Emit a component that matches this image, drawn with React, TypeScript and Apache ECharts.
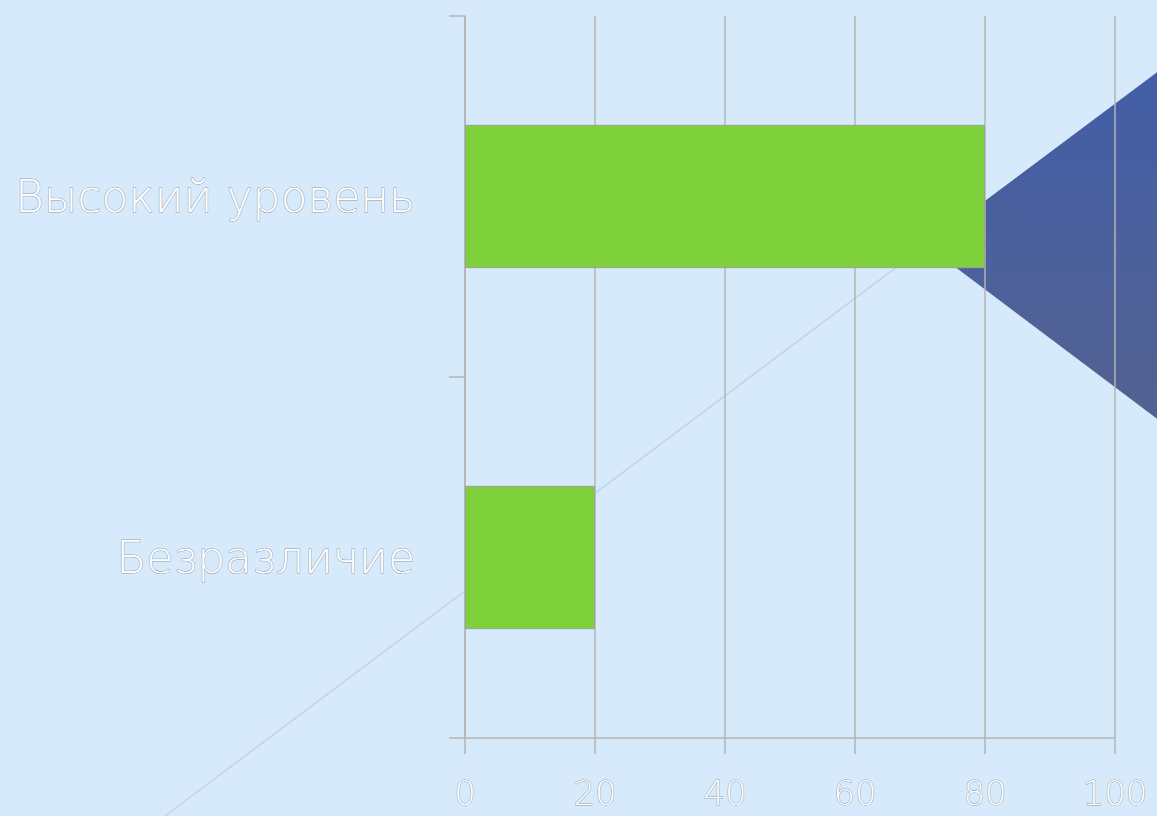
import React, { useEffect, useRef } from "react";
import * as echarts from "echarts";

const categories = ["Безразличие", "Высокий уровень"];
const values = [20, 80];
const xTicks = { min: 0, max: 100, interval: 20 };

export default function App() {
  const ref = useRef<HTMLDivElement>(null);
  useEffect(() => {
    document.body.style.margin = "0";
    const chart = echarts.init(ref.current!, null, { renderer: "svg" });
    const textStyle = {
      color: "#ffffff",
      fontFamily: "DejaVu Sans",
      fontWeight: 200 as any,
      textBorderColor: "rgba(110,120,130,0.7)",
      textBorderWidth: 1,
    };
    chart.setOption({
      animation: false,
      backgroundColor: "#d6eafc",
      graphic: {
        z: -10,
        elements: [
          {
            type: "polygon",
            z: -10,
            shape: { points: [[926, 245], [1200, 40], [1200, 451]] },
            style: {
              fill: new echarts.graphic.LinearGradient(0, 0, 0, 1, [
                { offset: 0, color: "#415ea9" },
                { offset: 1, color: "#55628f" },
              ]),
            },
          },
          {
            type: "line",
            z: -10,
            shape: { x1: 165, y1: 816, x2: 926, y2: 245 },
            style: { stroke: "#c3d3e2", lineWidth: 1.5 },
          },
        ],
      },
      grid: { left: 465, right: 42, top: 16, bottom: 78, containLabel: false },
      xAxis: {
        type: "value",
        min: xTicks.min,
        max: xTicks.max,
        interval: xTicks.interval,
        axisLine: { show: true, lineStyle: { color: "#b4b4b4", width: 1.5 } },
        axisTick: { show: true, length: 16, lineStyle: { color: "#b4b4b4", width: 1.5 } },
        splitLine: { show: true, lineStyle: { color: "#b4b4b4", width: 1.5 } },
        axisLabel: { ...textStyle, fontSize: 34, lineHeight: 34, margin: 38 },
      },
      yAxis: {
        type: "category",
        data: categories,
        axisLine: { show: true, lineStyle: { color: "#b4b4b4", width: 1.5 } },
        axisTick: { show: true, length: 16, lineStyle: { color: "#b4b4b4", width: 1.5 } },
        axisLabel: { ...textStyle, fontSize: 44, margin: 50 },
      },
      series: [
        {
          type: "bar",
          data: values,
          barWidth: "39.7%",
          itemStyle: { color: "#7fd13b", borderColor: "#9aa39a", borderWidth: 1 },
        },
      ],
    });
    return () => chart.dispose();
  }, []);
  return (
    <div
      ref={ref}
      style={{ position: "fixed", left: 0, top: 0, width: 1157, height: 816 }}
    />
  );
}
